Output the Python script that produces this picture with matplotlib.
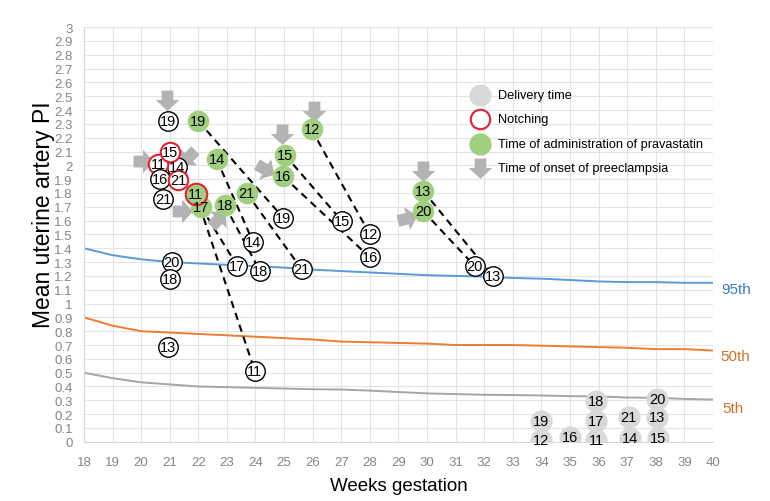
import numpy as np
import matplotlib
matplotlib.use("Agg")
import matplotlib.pyplot as plt
from matplotlib.markers import MarkerStyle
from matplotlib.path import Path
from matplotlib.transforms import Affine2D
from matplotlib.ticker import FuncFormatter

plt.rcParams['font.family'] = ['Liberation Sans', 'DejaVu Sans']

# ---------------- data ----------------
pct_weeks = list(range(18, 41))
p95 = [1.40, 1.35, 1.32, 1.30, 1.29, 1.28, 1.27, 1.26, 1.245, 1.235, 1.225, 1.215, 1.205,
       1.20, 1.195, 1.185, 1.18, 1.17, 1.16, 1.155, 1.155, 1.15, 1.15]
p50 = [0.90, 0.84, 0.80, 0.79, 0.78, 0.77, 0.76, 0.75, 0.74, 0.725, 0.72, 0.715, 0.71,
       0.70, 0.70, 0.70, 0.695, 0.69, 0.685, 0.68, 0.67, 0.67, 0.66]
p5 = [0.50, 0.46, 0.43, 0.415, 0.40, 0.395, 0.39, 0.385, 0.38, 0.378, 0.37, 0.36, 0.35,
      0.345, 0.34, 0.338, 0.335, 0.33, 0.328, 0.32, 0.318, 0.31, 0.305]

# baseline measurements (open circles); notch = red outline
pre_ids = ["19", "14", "11", "15", "16", "21", "21", "20", "18", "13"]
pre_weeks = [20.95, 21.26, 20.6, 21.0, 20.66, 21.3, 20.77, 21.07, 21.0, 20.95]
pre_pi = [2.32, 1.99, 2.01, 2.10, 1.90, 1.895, 1.756, 1.30, 1.18, 0.687]
pre_notch = [False, False, True, True, False, True, False, False, False, False]

# time of administration of pravastatin (green)
adm_ids = ["19", "14", "21", "17", "11", "18", "15", "16", "12", "13", "20"]
adm_weeks = [22.0, 22.64, 23.69, 22.09, 21.91, 22.93, 25.03, 24.97, 25.96, 29.86, 29.86]
adm_pi = [2.32, 2.045, 1.80, 1.70, 1.79, 1.71, 2.075, 1.92, 2.26, 1.816, 1.67]
adm_notch = [False, False, False, False, True, False, False, False, False, False, False]

# measurement after pravastatin (open circles, joined by dashed lines)
post_weeks = [24.97, 23.92, 25.61, 23.37, 23.98, 24.15, 27.01, 28.0, 28.0, 32.31, 31.67]
post_pi = [1.62, 1.443, 1.25, 1.27, 0.51, 1.237, 1.60, 1.334, 1.50, 1.197, 1.27]

# delivery time (grey)
del_ids = ["19", "12", "16", "18", "17", "11", "21", "14", "20", "13", "15"]
del_weeks = [34.0, 34.0, 35.0, 35.92, 35.92, 35.92, 37.05, 37.08, 38.05, 38.05, 38.08]
del_pi = [0.152, 0.014, 0.032, 0.297, 0.152, 0.014, 0.177, 0.025, 0.31, 0.177, 0.027]

# onset of preeclampsia (arrows): position and pointing direction (deg)
onset_weeks = [20.91, 20.05, 21.65, 21.42, 22.7, 24.33, 24.91, 26.05, 29.86, 29.3]
onset_pi = [2.47, 2.03, 2.06, 1.67, 1.61, 1.97, 2.23, 2.39, 1.96, 1.62]
onset_dir = [-90, 0, 225, 0, 45, -30, -90, -90, -90, 15]

x_ticks = list(range(18, 41))
y_ticks = [round(0.1 * i, 1) for i in range(31)]

legend_labels = ['Delivery time', 'Notching', 'Time of administration of pravastatin',
                 'Time of onset of preeclampsia']

# ---------------- styles ----------------
GREEN = '#a0cf7f'
GREY = '#d9d9d9'
ARROW = '#b3b3b3'
RED = '#e3212f'
BLUE = '#5b9bd5'
ORANGE = '#ed7d31'
LGREY = '#a5a5a5'

arrow_verts = [(-0.25, 0.42), (0.25, 0.42), (0.25, 0.02), (0.5, 0.02), (0.0, -0.44),
               (-0.5, 0.02), (-0.25, 0.02), (-0.25, 0.42)]
arrow_codes = [Path.MOVETO] + [Path.LINETO] * 6 + [Path.CLOSEPOLY]
arrow_path = Path(arrow_verts, arrow_codes)


def arrow_marker(direction):
    return MarkerStyle(arrow_path, transform=Affine2D().rotate_deg(direction + 90))


fig = plt.figure(figsize=(7.7, 5.02), dpi=100)
ax = fig.add_axes([0.109, 0.118, 0.817, 0.826])
ax.set_xlim(18, 40)
ax.set_ylim(0, 3)
ax.set_xticks(x_ticks)
ax.set_yticks(y_ticks)
ax.yaxis.set_major_formatter(FuncFormatter(lambda v, p: '%g' % round(v, 1)))
ax.grid(True, color='#e3e3e3', linewidth=0.8)
ax.set_axisbelow(True)
for s in ['top', 'right']:
    ax.spines[s].set_visible(False)
for s in ['left', 'bottom']:
    ax.spines[s].set_color('#d9d9d9')
ax.tick_params(length=0, labelsize=9.5, labelcolor='#858585')
ax.tick_params(axis='x', pad=10)
ax.tick_params(axis='y', pad=8)

ax.set_xlabel('Weeks gestation', fontsize=13.5, labelpad=7)
ax.set_ylabel('Mean uterine artery PI', fontsize=16.5)
ax.yaxis.set_label_coords(-0.046, 0.55)

# percentile curves
ax.plot(pct_weeks, p95, color=BLUE, lw=1.4, zorder=2)
ax.plot(pct_weeks, p50, color=ORANGE, lw=1.4, zorder=2)
ax.plot(pct_weeks, p5, color=LGREY, lw=1.4, zorder=2)
ax.text(40.3, 1.105, '95th', color='#3a7cc0', fontsize=11, va='center', ha='left', clip_on=False)
ax.text(40.25, 0.62, '50th', color='#d0702a', fontsize=11, va='center', ha='left', clip_on=False)
ax.text(40.32, 0.245, '5th', color='#d0702a', fontsize=11, va='center', ha='left', clip_on=False)

# dashed connectors
for xa, ya, xb, yb in zip(adm_weeks, adm_pi, post_weeks, post_pi):
    ax.plot([xa, xb], [ya, yb], color='black', lw=1.5, ls=(0, (3.5, 2.5)), zorder=3)

# arrows
for xw, yv, d in zip(onset_weeks, onset_pi, onset_dir):
    ax.plot([xw], [yv], ls='', marker=arrow_marker(d), ms=17, color=ARROW, mec='none', zorder=4)

# delivery
ax.plot(del_weeks, del_pi, ls='', marker='o', ms=16, mfc=GREY, mec='none', zorder=5)
for t, xw, yv in zip(del_ids, del_weeks, del_pi):
    ax.text(xw, yv, t, fontsize=10.5, ha='center', va='center', zorder=6)

# baseline open circles
for t, xw, yv, n in zip(pre_ids, pre_weeks, pre_pi, pre_notch):
    ax.plot([xw], [yv], ls='', marker='o', ms=14, mfc='white',
            mec=RED if n else 'black', mew=1.5 if n else 1.0, zorder=5)
    ax.text(xw, yv, t, fontsize=10.5, ha='center', va='center', zorder=6)

# post open circles
for t, xw, yv in zip(adm_ids, post_weeks, post_pi):
    ax.plot([xw], [yv], ls='', marker='o', ms=14, mfc='white', mec='black', mew=1.0, zorder=5)
    ax.text(xw, yv, t, fontsize=10.5, ha='center', va='center', zorder=6)

# administration green circles
for t, xw, yv, n in zip(adm_ids, adm_weeks, adm_pi, adm_notch):
    ax.plot([xw], [yv], ls='', marker='o', ms=15.5, mfc=GREEN,
            mec=RED if n else 'none', mew=1.5, zorder=5)
    ax.text(xw, yv, t, fontsize=10.5, ha='center', va='center', zorder=6)

# legend (drawn in axes coordinates)
leg_x, leg_tx, leg_y0, leg_dy = 0.630, 0.658, 0.836, 0.0585
leg_styles = [
    dict(marker='o', ms=16, mfc=GREY, mec='none'),
    dict(marker='o', ms=14, mfc='white', mec=RED, mew=1.5),
    dict(marker='o', ms=16, mfc=GREEN, mec='none'),
    dict(marker=arrow_marker(-90), ms=17, color=ARROW, mec='none'),
]
for i, (lab, st) in enumerate(zip(legend_labels, leg_styles)):
    yy = leg_y0 - i * leg_dy
    ax.plot([leg_x], [yy], ls='', transform=ax.transAxes, clip_on=False, zorder=7, **st)
    ax.text(leg_tx, yy, lab, fontsize=9.2, ha='left', va='center', transform=ax.transAxes, zorder=7)

fig.savefig('out.png', dpi=100)
